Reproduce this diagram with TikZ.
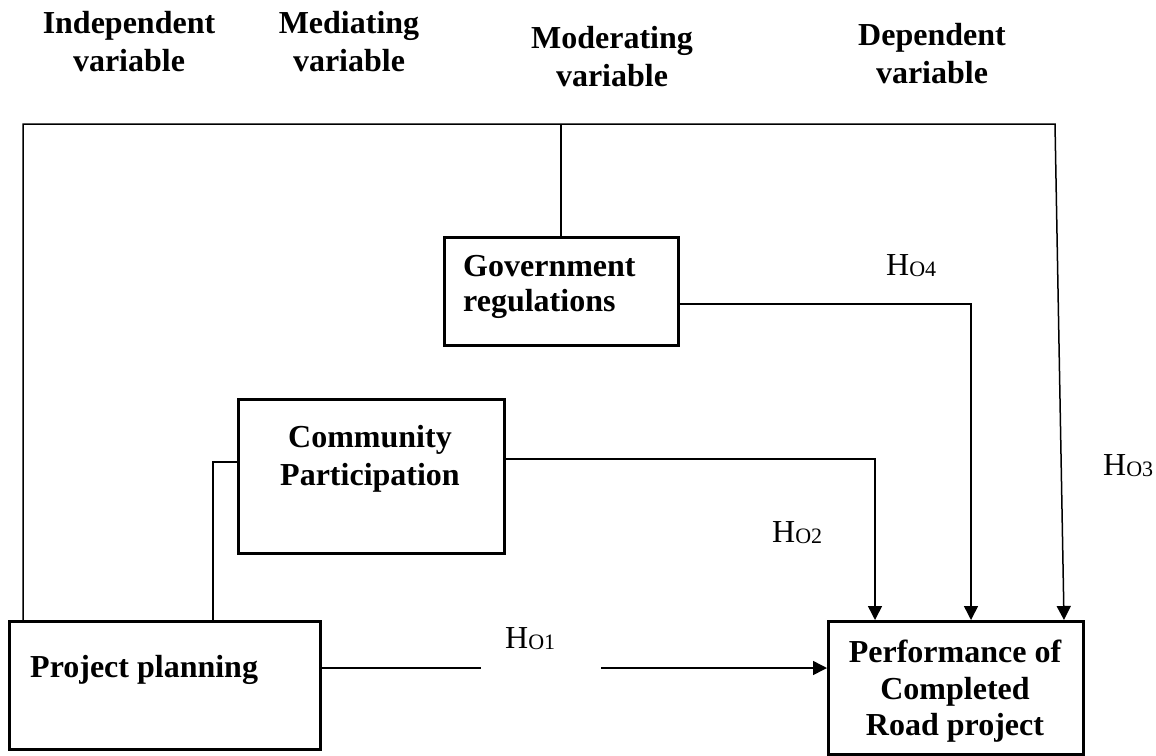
\documentclass[tikz,border=0pt]{standalone}
\usepackage{fontspec}
\setmainfont{Liberation Serif}
\usetikzlibrary{arrows.meta,calc}

% hypothesis label: H with a small lowered O and number
\newcommand{\hyplabel}[1]{H\raisebox{-1.5pt}{\fontsize{22}{22}\selectfont O#1}}

\begin{document}
\begin{tikzpicture}[x=1pt,y=-1pt,
  box/.style={draw, line width=2.6pt, inner sep=0pt, anchor=north west},
  conn/.style={line width=1.5pt},
  arr/.style={conn, -{Triangle[length=14pt,width=14pt]}},
  bold/.style={font=\fontsize{32}{38}\selectfont\bfseries, inner sep=0pt},
  hyp/.style={font=\fontsize{32}{38}\selectfont, anchor=base west, inner sep=0pt}
]
\useasboundingbox (0,0) rectangle (1156,755);

% column headings
\node[bold, align=center, anchor=north] (hind) at (129,11) {Independent\\variable};
\node[bold, align=center, anchor=north] (hmed) at (349,11) {Mediating\\variable};
\node[bold, align=center, anchor=north] (hmod) at (612,26) {Moderating\\variable};
\node[bold, align=center, anchor=north] (hdep) at (932,23) {Dependent\\variable};

% boxes
\node[box, minimum width=311pt, minimum height=128pt] (pp) at (8,620) {};
\node[box, minimum width=266pt, minimum height=154pt] (cp) at (237,398) {};
\node[box, minimum width=234pt, minimum height=108pt] (gov) at (443,236) {};
\node[box, minimum width=255pt, minimum height=133pt] (perf) at (827,620) {};

% box texts
\node[bold, anchor=base west] (pptext) at (30,677) {Project planning};
\node[bold, align=center, anchor=north] (cptext) at (370,425) {Community\\Participation};
\node[bold, align=left, anchor=north west, font=\fontsize{32}{35}\selectfont\bfseries] (govtext) at (463,255) {Government\\regulations};
\node[bold, align=center, anchor=north, font=\fontsize{32}{36.5}\selectfont\bfseries] (perftext) at (955,640) {Performance of\\Completed\\Road project};

% hypothesis labels
\node[hyp] (h1) at (505,648) {\hyplabel{1}};
\node[hyp] (h2) at (772,542) {\hyplabel{2}};
\node[hyp] (h3) at (1103,475) {\hyplabel{3}};
\node[hyp] (h4) at (886,275) {\hyplabel{4}};

% routing points
\coordinate (tl) at (23,124);
\coordinate (tr) at (1055,124);
\coordinate (gapA) at (481,668);
\coordinate (gapB) at (601,668);

% independent variable straight to the outcome (top route)
\draw[arr] ($(pp.north west)+(15,0)$) -- (tl) -- (tr) -- ($(perf.north west)+(237,0)$);
% moderator hangs from the top route
\draw[conn, line width=2pt] (gov.north) -- (gov.north |- tl);
% moderator to outcome
\draw[arr] ($(gov.north east)+(0,68)$) -| ($(perf.north west)+(144,0)$);
% mediator to outcome
\draw[arr] ($(cp.north east)+(0,61)$) -| ($(perf.north west)+(48,0)$);
% planning to mediator
\draw[conn] ($(pp.north west)+(205,0)$) |- ($(cp.north west)+(0,64)$);
% planning to outcome, broken around the label
\draw[conn] ($(pp.north east)+(0,48)$) -- (gapA);
\draw[arr] (gapB) -- ($(perf.north west)+(0,48)$);
\end{tikzpicture}
\end{document}
